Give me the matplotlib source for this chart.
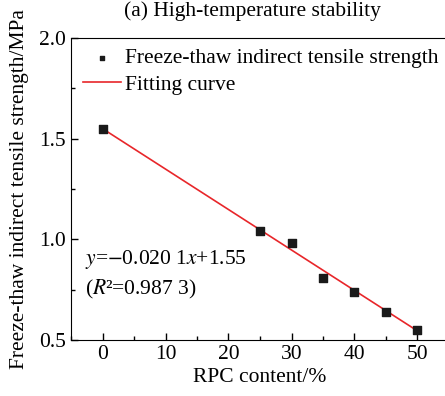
import numpy as np
import matplotlib
matplotlib.use('Agg')
from matplotlib import pyplot as plt
from matplotlib.ticker import MultipleLocator

rpc = [0, 25, 30, 35, 40, 45, 50]
strength = [1.55, 1.04, 0.98, 0.81, 0.74, 0.64, 0.55]
slope = -0.0201
intercept = 1.55

plt.rcParams['font.family'] = ['Liberation Serif', 'DejaVu Serif']
plt.rcParams['mathtext.fontset'] = 'stix'

fig = plt.figure(figsize=(4.45, 3.96), dpi=100)
ax = fig.add_axes([71 / 445, 56 / 396, 378 / 445, 302 / 396])

ax.scatter(rpc, strength, marker='s', s=30, color='#1a1a1a', zorder=3,
           label='Freeze-thaw indirect tensile strength')
xf = np.array([rpc[0], rpc[-1]])
ax.plot(xf, slope * xf + intercept, color='#e8262a', lw=1.2, label='Fitting curve')

ax.set_xlim(-5, 55)
ax.set_ylim(0.5, 2.0)
ax.xaxis.set_major_locator(MultipleLocator(10))
ax.xaxis.set_minor_locator(MultipleLocator(5))
ax.yaxis.set_major_locator(MultipleLocator(0.5))
ax.yaxis.set_minor_locator(MultipleLocator(0.25))
ax.tick_params(which='both', direction='in', labelsize=15.5, width=1)
ax.tick_params(which='major', length=5)
ax.tick_params(which='minor', length=3)

ax.set_xlabel('RPC content/%', fontsize=15.5, labelpad=3)
ax.set_ylabel('Freeze-thaw indirect tensile strength/MPa', fontsize=15.5, labelpad=7.5)
ax.set_title('(a) High-temperature stability', fontsize=15.5, pad=16, x=0.48)

ax.text(-2.8, 0.9, r'$y$=$-$0.020 1$x$+1.55', fontsize=15.5, va='center')
ax.text(-2.8, 0.75, r'($\mathit{R}$²=0.987 3)', fontsize=15.5, va='center')

ax.legend(loc='upper left', bbox_to_anchor=(0.01, 0.995), frameon=False,
          fontsize=15.5, handlelength=1.75, handletextpad=0.2, markerscale=0.6,
          borderaxespad=0.0, labelspacing=0.3)

plt.savefig('out.png', dpi=100)
